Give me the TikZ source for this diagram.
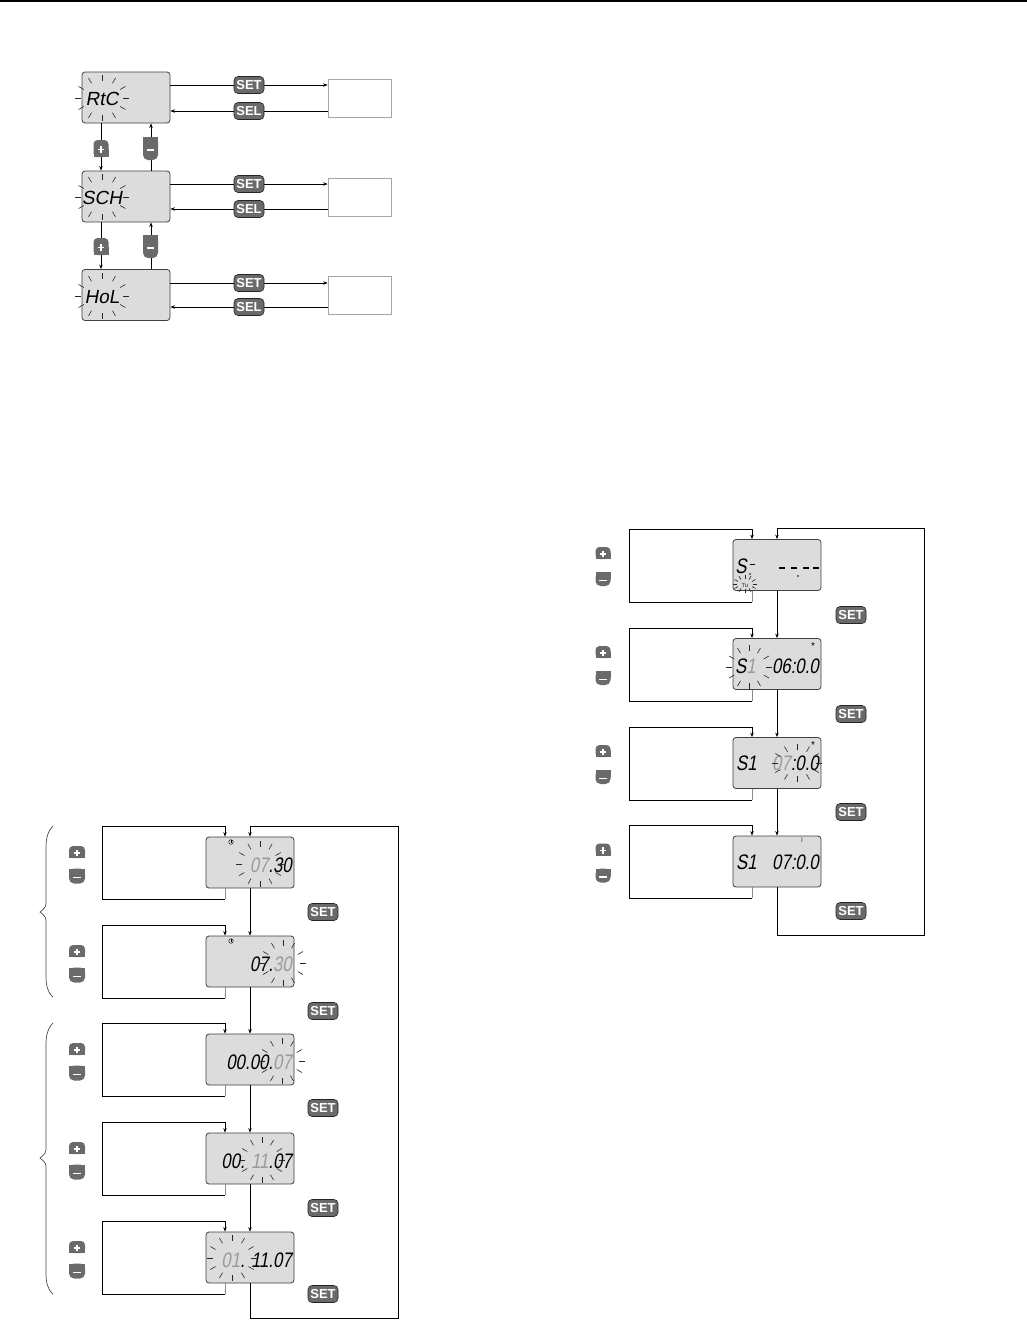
\documentclass[tikz,border=0pt]{standalone}
\usepackage{fontspec}
\setmainfont{Liberation Sans}
\newfontfamily\lcd{Liberation Sans}[FakeSlant=0.18,FakeStretch=0.8]
\newfontfamily\lcdw{Liberation Sans}[FakeSlant=0.18]
\usetikzlibrary{arrows.meta,calc}
\definecolor{lcdfill}{HTML}{DCDCDC}
\definecolor{blinkc}{HTML}{9A9A9A}
\definecolor{btnfill}{HTML}{6A6A6A}
\definecolor{loopc}{HTML}{8C8C8C}
\newcommand\flash[5]{\foreach \a in {0,30,...,330}{\draw[ray] ({#1+#3*cos(\a)},{#2+#4*sin(\a)}) -- ({#1+(#3+#5)*cos(\a)},{#2+(#4+#5)*sin(\a)});}}
\newcommand\plusbtn[4]{%
 \fill[btnfill,rounded corners=4pt] ({#1-#3/2},{#2-#4/2}) rectangle ({#1+#3/2},{#2+#4/2});
 \fill[btnfill] ({#1-#3/2},{#2}) rectangle ({#1+#3/2},{#2+#4/2});
 \draw[white,line width=1.5pt] ({#1-3.2},{#2+1}) -- ({#1+3.2},{#2+1}) ({#1},{#2-2.2}) -- ({#1},{#2+4.2});}
\newcommand\minusbtn[4]{%
 \fill[btnfill,rounded corners=5pt] ({#1-#3/2},{#2-#4/2}) rectangle ({#1+#3/2},{#2+#4/2});
 \fill[btnfill] ({#1-#3/2},{#2-#4/2}) rectangle ({#1+#3/2},{#2});
 \draw[white,line width=1.6pt] ({#1-3.8},{#2+1.5}) -- ({#1+3.8},{#2+1.5});}
\newcommand\clockicon[2]{\draw[line width=0.4pt] (#1,#2) circle (2.3pt); \draw[line width=0.4pt] (#1,#2-1.6) -- (#1,#2) -- (#1+1.4,#2);}
\begin{document}
\begin{tikzpicture}[x=1pt,y=-1pt,
 lcdbox/.style={draw=black!75, fill=lcdfill, rounded corners=3pt, minimum width=88pt, minimum height=51pt, inner sep=0pt, line width=0.8pt},
 target/.style={draw=black!35, fill=white, minimum width=63pt, minimum height=38pt, inner sep=0pt, line width=0.7pt},
 badge/.style={draw=black!85, fill=btnfill, rounded corners=4pt, text=white, font=\bfseries\fontsize{13}{13}\selectfont, minimum width=30pt, minimum height=17pt, inner sep=0pt, line width=0.6pt},
 wire/.style={line width=0.7pt},
 link/.style={line width=0.7pt, -{Stealth[length=4.5pt,width=3.5pt]}},
 ray/.style={line width=0.6pt, black!85},
 word/.style={inner sep=0pt, font=\lcdw\fontsize{19}{19}\selectfont},
 digits/.style={inner sep=0pt, anchor=east, font=\lcd\fontsize{21}{21}\selectfont},
 tiny/.style={inner sep=0pt, font=\fontsize{7}{7}\selectfont},
]
\useasboundingbox (0,0) rectangle (1027,1320);
\fill[white] (0,0) rectangle (1027,1320);
\draw[line width=1.5pt] (0,1) -- (1027,1);

% ================= top block =================
\node[lcdbox] (r1) at (126,97.5) {};
\node[lcdbox] (r2) at (126,196.5) {};
\node[lcdbox] (r3) at (126,295) {};
\node[target] (t1) at (359.5,98) {};
\node[target] (t2) at (359.5,197) {};
\node[target] (t3) at (359.5,295) {};
\node[badge] (set1) at (249,85) {SET};
\node[badge] (sel1) at (249,111) {SEL};
\node[badge] (set2) at (249,184) {SET};
\node[badge] (sel2) at (249,209) {SEL};
\node[badge] (set3) at (249,283) {SET};
\node[badge] (sel3) at (249,307) {SEL};
\foreach \i in {1,2,3} {
 \draw[wire] (r\i.east |- set\i) -- (set\i.west);
 \draw[link] (set\i.east) -- (t\i.west |- set\i);
 \draw[wire] (t\i.west |- sel\i) -- (sel\i.east);
 \draw[link] (sel\i.west) -- (r\i.east |- sel\i);
}
\coordinate (px) at (101,0);
\coordinate (mx) at (151,0);
\draw[link] (r1.south -| px) -- (r2.north -| px);
\draw[link] (r2.south -| px) -- (r3.north -| px);
\draw[link] (r2.north -| mx) -- (r1.south -| mx);
\draw[link] (r3.north -| mx) -- (r2.south -| mx);
\plusbtn{101}{148.5}{15}{17}
\minusbtn{150.5}{148.5}{15}{23}
\plusbtn{101}{246.5}{15}{17}
\minusbtn{150.5}{246.5}{15}{23}
\node[word] (wrtc) at (102,98.5) {RtC};
\flash{102}{98}{21}{17}{6}
\node[word] (wsch) at (102,198) {SCH};
\flash{102}{197}{21}{17}{6}
\node[word] (whol) at (102,297) {HoL};
\flash{102}{296}{21}{17}{6}

% ================= bottom-left block =================
\foreach \i/\y in {1/862.5,2/961.5,3/1059.5,4/1158.5,5/1257.5} {
 \node[lcdbox] (d\i) at (250,\y) {};
}
\coordinate (lx) at (225,0);
\foreach \i in {1,...,5} {
 \draw[wire,black!45] (d\i.south -| lx) -- ++(0,11) coordinate (lb\i);
 \draw[link] (lb\i) -- ++(-123,0) -- ++(0,-73) -- ++(123,0) -- (d\i.north -| lx);
}
\foreach \i/\j in {1/2,2/3,3/4,4/5} {\draw[link] (d\i.south) -- (d\j.north);}
\draw[link] (d5.south) -- ++(0,35) -| (398,826) -| (d1.north);
\foreach \i/\y in {1/912,2/1011,3/1108,4/1208,5/1294} {\node[badge] (bs\i) at (323,\y) {SET};}
\foreach \y in {862.5,961.5,1059.5,1158.5,1257.5} {
 \plusbtn{77}{\y-10.5}{16}{12}
 \minusbtn{77}{\y+13.5}{16}{15}
}
\draw[wire,black!70] (53,826) .. controls (47,832) and (46,840) .. (46,848) -- (46,900) .. controls (46,907) .. (40,912) .. controls (46,917) .. (46,924) -- (46,976) .. controls (46,984) and (47,992) .. (53,997);
\draw[wire,black!70] (53,1023) .. controls (47,1029) and (46,1037) .. (46,1045) -- (46,1146) .. controls (46,1153) .. (40,1158) .. controls (46,1163) .. (46,1170) -- (46,1273) .. controls (46,1281) and (47,1289) .. (53,1294);

\clockicon{231}{842}
\node[digits] (x1) at (292,865) {{\color{blinkc}07}.30};
\flash{260}{864}{18}{17}{6}
\clockicon{231}{941}
\node[digits] (x2) at (292,964) {07.{\color{blinkc}30}};
\flash{283}{963}{17}{17}{6}
\node[digits] (x3) at (292,1062) {00.00.{\color{blinkc}07}};
\flash{282}{1061}{17}{17}{6}
\node[digits] (x4) at (292,1161) {00. {\color{blinkc}11}.07};
\flash{262}{1160}{17}{17}{6}
\node[digits] (x5) at (292,1260) {{\color{blinkc}01}. 11.07};
\flash{232}{1258}{19}{17}{6}

% ================= right block =================
\foreach \i/\y in {1/565,2/664,3/763,4/861.5} {
 \node[lcdbox] (q\i) at (777,\y) {};
}
\coordinate (rx) at (752,0);
\foreach \i in {1,...,4} {
 \draw[wire,black!45] (q\i.south -| rx) -- ++(0,11) coordinate (rb\i);
 \draw[link] (rb\i) -- ++(-123,0) -- ++(0,-73) -- ++(123,0) -- (q\i.north -| rx);
}
\foreach \i/\j in {1/2,2/3,3/4} {\draw[link] (q\i.south) -- (q\j.north);}
\draw[link] (q4.south) -- ++(0,48) -| (924,528) -| (q1.north);
\foreach \i/\y in {1/615,2/714,3/812,4/911} {\node[badge] (qs\i) at (851,\y) {SET};}
\foreach \y in {565,664,763,861.5} {
 \plusbtn{603}{\y-12}{15}{12}
 \minusbtn{603}{\y+14}{15}{14}
}
% q1
\node[digits,anchor=center] (ss) at (741,566) {S};
\draw[line width=1pt] (750,564) -- (755,564);
\fill (750,574) circle (0.8pt);
\foreach \xa in {779,791,803,813} {\draw[line width=1.1pt] (\xa,568) -- ++(5.5,0);}
\fill (798,576) circle (0.8pt);
\node[tiny,font=\bfseries\fontsize{6}{6}\selectfont,text=black!60] (tu) at (745,585) {Tu};
\flash{745}{584}{8}{5}{4}
% q2
\node[digits,anchor=west] (s2) at (735,666) {S{\color{blinkc}1}};
\flash{749}{667}{17}{16}{6}
\node[digits] (v2) at (819,666) {06:0.0};
\node[tiny,font=\fontsize{10}{10}\selectfont] (st2) at (813,646) {*};
% q3
\node[digits,anchor=west] (s3) at (736,763) {S1};
\node[digits] (v3) at (819,763) {{\color{blinkc}07}:0.0};
\flash{797}{763}{19}{13}{6}
\node[tiny,font=\fontsize{10}{10}\selectfont] (st3) at (813,745) {*};
% q4
\node[digits,anchor=west] (s4) at (736,862) {S1};
\node[digits] (v4) at (819,862) {07:0.0};
\node[tiny] (moon) at (802,840) {\fontsize{5}{5}\selectfont )};
\end{tikzpicture}
\end{document}
